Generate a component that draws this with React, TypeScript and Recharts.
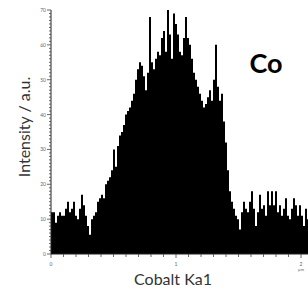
import { AreaChart, Area, XAxis, YAxis } from "recharts"

// Co Ka1 line scan, counts per bin (bin = 0.016 µm)
const BIN_UM = 0.016
const counts = [
  12, 12, 9, 11, 12, 11, 11, 13, 15, 12, 13, 15, 11, 10, 13, 17, 14, 11, 8, 5.5,
  10, 11, 12, 15, 16, 17, 16, 20, 21, 22, 24, 30, 25, 31, 34, 35, 37, 40, 41, 42,
  44, 46, 50, 53, 55, 54, 51, 47, 52, 68, 55, 53, 56, 58, 57, 62, 64, 58, 70, 63,
  56, 69, 66, 63, 58, 57, 62, 68, 62, 60, 56, 52, 50, 48, 46, 44, 42, 43, 45, 47,
  44, 50, 60, 48, 44, 46, 38, 32, 24, 18, 15, 13, 11, 10, 7, 12, 15, 13, 12, 15,
  18, 13, 8, 12, 17, 13, 14, 11, 18, 14, 18, 14, 18, 12, 14, 11, 13, 16, 11, 10,
  13, 16, 14, 11, 14, 11, 8, 13, 10,
]
const yMajor = [0, 10, 20, 30, 40, 50, 60, 70]
const xMajor = [0, 1, 2]

const data = counts.map((v, i) => ({ x: i * BIN_UM, v }))
data.push({ x: counts.length * BIN_UM, v: counts[counts.length - 1] })

const yTicks = Array.from({ length: 71 }, (_, i) => i)
const xTicks = Array.from({ length: 21 }, (_, i) => i / 10)

const FONT = "Lato, 'Open Sans', sans-serif"

function YTick({ x, y, payload }: any) {
  const major = yMajor.includes(payload.value)
  return (
    <g>
      <line x1={x - (major ? 4 : 2)} x2={x} y1={y} y2={y} stroke="#444" strokeWidth={0.8} />
      {major && (
        <text x={x - 5} y={y + 2} textAnchor="end" fontSize={5} fill="#666" fontFamily={FONT}>
          {payload.value}
        </text>
      )}
    </g>
  )
}

function XTick({ x, y, payload }: any) {
  const v = Math.round(payload.value * 10) / 10
  const major = xMajor.includes(v)
  return (
    <g>
      <line x1={x} x2={x} y1={y} y2={y + (major ? 4 : 3)} stroke="#444" strokeWidth={0.8} />
      {major && (
        <text x={x} y={y + 12} textAnchor="middle" fontSize={5} fill="#666" fontFamily={FONT}>
          {v}
        </text>
      )}
      {v === 2 && (
        <text x={x} y={y + 17} textAnchor="middle" fontSize={4} fill="#666" fontFamily={FONT}>
          µm
        </text>
      )}
    </g>
  )
}

export default function App() {
  return (
    <div style={{ position: "absolute", left: 0, top: 0, width: 308, height: 291, background: "#fff" }}>
      <AreaChart width={308} height={291} data={data} margin={{ top: 10, right: 0, bottom: 0, left: 0 }}>
        <XAxis
          dataKey="x"
          type="number"
          domain={[0, 2.056]}
          allowDataOverflow
          ticks={xTicks}
          interval={0}
          height={37}
          tickSize={0}
          tickMargin={0}
          tickLine={false}
          axisLine={{ stroke: "#222" }}
          tick={<XTick />}
        />
        <YAxis
          type="number"
          domain={[0, 70]}
          ticks={yTicks}
          interval={0}
          width={51}
          tickSize={0}
          tickMargin={0}
          tickLine={false}
          axisLine={{ stroke: "#222" }}
          tick={<YTick />}
        />
        <Area
          type="stepAfter"
          dataKey="v"
          fill="#000"
          fillOpacity={1}
          stroke="none"
          isAnimationActive={false}
        />
      </AreaChart>
      <div
        style={{
          position: "absolute", left: 266, top: 62, transform: "translate(-50%, -50%)",
          fontFamily: FONT, fontWeight: 700, fontSize: 27, color: "#000", whiteSpace: "nowrap",
        }}
      >
        Co
      </div>
      <div
        style={{
          position: "absolute", left: 173, top: 278, transform: "translate(-50%, -50%)",
          fontFamily: FONT, fontSize: 16, color: "#333", whiteSpace: "nowrap",
        }}
      >
        Cobalt Ka1
      </div>
      <div
        style={{
          position: "absolute", left: 23, top: 127, transform: "translate(-50%, -50%) rotate(-90deg)",
          fontFamily: FONT, fontSize: 16, color: "#333", whiteSpace: "nowrap",
        }}
      >
        Intensity / a.u.
      </div>
    </div>
  )
}
